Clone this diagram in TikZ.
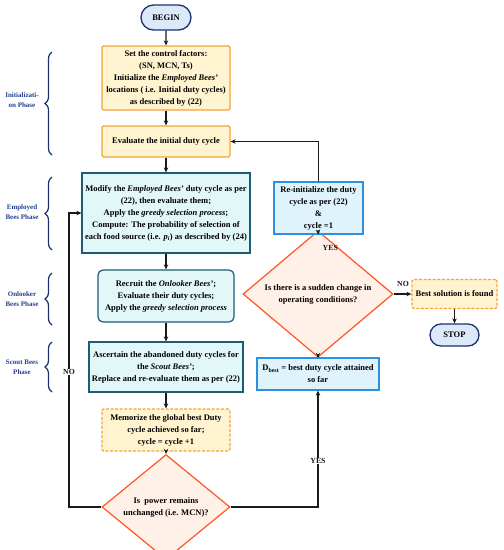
\documentclass[tikz,border=0pt]{standalone}
\usepackage{fontspec}
\setmainfont{Liberation Serif}
\usetikzlibrary{shapes.geometric,shapes.misc,arrows.meta,decorations.pathreplacing}
\definecolor{orb}{HTML}{F7A234}
\definecolor{yelf}{HTML}{FFF4CF}
\definecolor{tealb}{HTML}{1D5C75}
\definecolor{tealf}{HTML}{E2F7F8}
\definecolor{blub}{HTML}{2E8FE0}
\definecolor{bluf}{HTML}{DFF3FC}
\definecolor{redb}{HTML}{FF5526}
\definecolor{redf}{HTML}{FFF1E8}
\definecolor{navy}{HTML}{1C3170}
\definecolor{navyf}{HTML}{DDE9F8}
\definecolor{lbl}{HTML}{23408E}
\definecolor{ln}{HTML}{1A1A1A}
\tikzset{
  base/.style={align=center, inner sep=1pt, font=\fontsize{8.5}{12}\selectfont\bfseries, line width=1.2pt},
  yelbox/.style={base, draw=orb, fill=yelf, rounded corners=1.5pt},
  dashbox/.style={yelbox, dashed, dash pattern=on 3pt off 1.6pt},
  tealbox/.style={base, draw=tealb, fill=tealf},
  bluebox/.style={base, draw=blub, fill=bluf},
  decis/.style={base, diamond, draw=redb, fill=redf, inner sep=0pt},
  term/.style={base, rounded rectangle, draw=navy, fill=navyf, line width=1.3pt, font=\fontsize{8.5}{9}\selectfont\bfseries},
  arr/.style={draw=ln, line width=1.1pt, -{Stealth[length=5pt,width=4.5pt]}},
  lab/.style={font=\fontsize{7.8}{8}\selectfont\bfseries, text=ln, fill=white, inner sep=0.5pt},
  phase/.style={font=\fontsize{7}{10}\selectfont\bfseries, text=lbl, align=center},
  brc/.style={draw=navy, line width=1.2pt, decorate, decoration={brace, amplitude=7pt}},
}
\begin{document}
\begin{tikzpicture}[x=1pt,y=-1pt]
\useasboundingbox (0,0) rectangle (504,550);
% nodes
\node[term, minimum width=52pt, minimum height=25pt] (begin) at (166,17.5) {BEGIN};
\node[yelbox, minimum width=128pt, minimum height=64pt] (init) at (166,78)
  {Set the control factors:\\ (SN, MCN, Ts)\\ Initialize the \textit{Employed Bees'}\\ locations ( i.e. Initial duty cycles)\\ as described by (22)};
\node[yelbox, minimum width=128pt, minimum height=31pt] (eval) at (166,141.5) {Evaluate the initial duty cycle};
\node[tealbox, minimum width=168pt, minimum height=80pt] (modify) at (166,213)
  {Modify the \textit{Employed Bees'} duty cycle as per\\ (22), then evaluate them;\\ Apply the \textit{greedy selection process};\\ Compute: The probability of selection of\\ each food source (i.e. \textit{p}\textsubscript{\textit{i}}) as described by (24)};
\node[tealbox, rounded corners=5pt, minimum width=136pt, minimum height=52pt] (recruit) at (166,296)
  {Recruit the \textit{Onlooker Bees'};\\ Evaluate their duty cycles;\\ Apply the \textit{greedy selection process}};
\node[tealbox, minimum width=154pt, minimum height=50pt] (ascert) at (166,367)
  {Ascertain the abandoned duty cycles for\\ the \textit{Scout Bees'};\\ Replace and re-evaluate them as per (22)};
\node[dashbox, minimum width=128pt, minimum height=42pt] (memo) at (166,430)
  {Memorize the global best Duty\\ cycle achieved so far;\\ cycle = cycle +1};
\node[decis, minimum width=128pt, minimum height=70pt] (d1) at (166,507)
  {Is\ \ power remains\\ unchanged (i.e. MCN)?};
\node[decis, minimum width=150pt, minimum height=84pt] (d2) at (318,294)
  {Is there is a sudden change in\\ operating conditions?};
\node[bluebox, minimum width=89pt, minimum height=52pt] (reinit) at (318.5,208)
  {Re-initialize the duty\\ cycle as per (22)\\ \&\\ cycle =1};
\node[bluebox, minimum width=122pt, minimum height=32pt] (dbest) at (318,374)
  {D\textsubscript{best} = best duty cycle attained\\ so far};
\node[dashbox, minimum width=85pt, minimum height=29pt] (best) at (454.5,294) {Best solution is found};
\node[term, minimum width=51pt, minimum height=22pt] (stop) at (454.5,335) {STOP};
% connectors
\draw[arr] (begin) -- (init);
\draw[arr] (init) -- (eval);
\draw[arr] (eval) -- (modify);
\draw[arr] (modify) -- (recruit);
\draw[arr] (recruit) -- (ascert);
\draw[arr] (ascert) -- (memo);
\draw[arr] (memo) -- (d1);
\coordinate (nox) at (69,372);
\draw[arr] (d1.west) -- (d1.west -| nox) |- (modify.west);
\node[lab] (nolab) at (nox) {NO};
\coordinate (yesx) at (318,461);
\draw[arr] (d1.east) -| (dbest.south);
\node[lab] (yes1) at (yesx) {YES};
\draw[arr] (dbest) -- (d2);
\draw[arr] (d2.north) -- (reinit.south);
\node[lab, anchor=west, fill=none] (yes2) at (322,248) {YES};
\draw[arr] (reinit.north) |- (eval.east);
\draw[arr] (d2.east) -- (best.west);
\node[lab, fill=none] (no2) at (403,284) {NO};
\draw[arr] (best) -- (stop);
% phases
\draw[brc] (52,155) -- (52,52);
\node[phase] (p1) at (22,100) {Initializati-\\on Phase};
\draw[brc] (52,250) -- (52,177);
\node[phase] (p2) at (22,212) {Employed\\Bees Phase};
\draw[brc] (52,325) -- (52,273);
\node[phase] (p3) at (22,299) {Onlooker\\Bees Phase};
\draw[brc] (52,392) -- (52,342);
\node[phase] (p4) at (22,367) {Scout Bees\\Phase};
\end{tikzpicture}
\end{document}
